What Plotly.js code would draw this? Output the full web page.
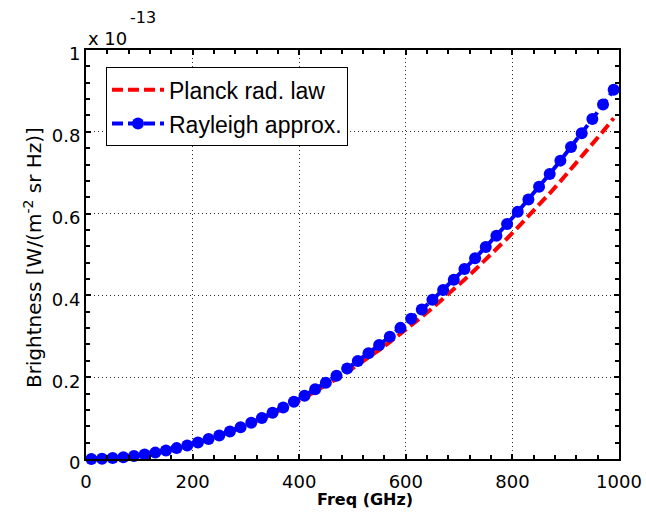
<!DOCTYPE html>
<html>
<head>
<meta charset="utf-8">
<script src="https://cdn.plot.ly/plotly-3.0.1.min.js"></script>
<style>html,body{margin:0;padding:0;background:#fff;}#chart{width:646px;height:513px;}</style>
</head>
<body>
<div id="chart"></div>
<script>
const freqGHz = [10,30,50,70,90,110,130,150,170,190,210,230,250,270,290,310,330,350,370,390,
  410,430,450,470,490,510,530,550,570,590,610,630,650,670,690,710,730,750,770,790,
  810,830,850,870,890,910,930,950,970,990];
const planck = [0.0001,0.0008,0.0023,0.0045,0.0074,0.0110,0.0154,0.0205,0.0263,0.0327,
  0.0399,0.0478,0.0564,0.0657,0.0757,0.0863,0.0977,0.1097,0.1224,0.1358,
  0.1498,0.1645,0.1799,0.1959,0.2126,0.2299,0.2479,0.2665,0.2858,0.3057,
  0.3263,0.3474,0.3692,0.3917,0.4147,0.4384,0.4627,0.4876,0.5131,0.5392,
  0.5660,0.5933,0.6212,0.6497,0.6788,0.7085,0.7388,0.7696,0.8011,0.8331];
const rayleigh = [0.0001,0.0008,0.0023,0.0045,0.0075,0.0111,0.0156,0.0207,0.0266,0.0332,
  0.0406,0.0487,0.0576,0.0671,0.0775,0.0885,0.1003,0.1128,0.1261,0.1401,
  0.1548,0.1703,0.1865,0.2034,0.2211,0.2396,0.2587,0.2786,0.2992,0.3206,
  0.3427,0.3655,0.3891,0.4134,0.4385,0.4643,0.4908,0.5181,0.5461,0.5748,
  0.6043,0.6345,0.6654,0.6971,0.7295,0.7627,0.7966,0.8312,0.8666,0.9027];
const seriesNames = ['Planck rad. law', 'Rayleigh approx.'];
const xTicks = [0,200,400,600,800,1000];
const yTicks = [0,0.2,0.4,0.6,0.8,1];
const yTickText = ['0','0.2','0.4','0.6','0.8','1'];
const xTitle = 'Freq (GHz)';
const yTitle = 'Brightness [W/(m<sup>-2</sup> sr Hz)]';
const exponentBase = 'x 10';
const exponentPow = '-13';

const tickFont = {family: 'DejaVu Sans', size: 18, color: '#000'};

const traces = [
  {x: freqGHz, y: planck, name: seriesNames[0], type: 'scatter', mode: 'lines',
   line: {color: '#ff0000', width: 4, dash: '11px,5px'}, legendgroup: 'a'},
  {x: freqGHz, y: rayleigh, name: seriesNames[1], type: 'scatter', mode: 'lines+markers',
   line: {color: '#0000ff', width: 4, dash: '11px,5px'},
   marker: {color: '#0000ff', size: 12, symbol: 'circle'}, cliponaxis: false, legendgroup: 'b'}
];

const axisCommon = {
  showline: true, linecolor: '#000', linewidth: 2, mirror: 'allticks',
  ticks: 'inside', ticklen: 5, tickwidth: 2, tickcolor: '#000',
  showgrid: true, gridcolor: '#333', gridwidth: 1, griddash: '1px,3px',
  zeroline: false, tickfont: tickFont, fixedrange: true
};

const layout = {
  width: 646, height: 513,
  margin: {l: 86, r: 27, t: 50, b: 54, pad: 0},
  paper_bgcolor: '#fff', plot_bgcolor: '#fff',
  showlegend: true,
  legend: {x: 0.0375, y: 0.958, xanchor: 'left', yanchor: 'top',
    bgcolor: '#fff', bordercolor: '#000', borderwidth: 1,
    font: {family: 'Liberation Sans', size: 23, color: '#000'},
    traceorder: 'grouped', tracegroupgap: 1, itemwidth: 52},
  xaxis: Object.assign({}, axisCommon, {
    range: [0, 1000], tickvals: xTicks, ticktext: xTicks.map(String),
    minor: {dtick: 40, tick0: 0, ticks: 'inside', ticklen: 4, tickwidth: 2, tickcolor: '#000', showgrid: false},
    ticklabelstandoff: 5
  }),
  yaxis: Object.assign({}, axisCommon, {
    range: [0, 1], tickvals: yTicks, ticktext: yTickText,
    minor: {dtick: 0.04, tick0: 0, ticks: 'inside', ticklen: 4, tickwidth: 2, tickcolor: '#000', showgrid: false},
    ticklabelstandoff: 0, ticklabelshift: 4
  }),
  annotations: [
    {xref: 'paper', yref: 'paper', x: 0, y: 1.028, xanchor: 'left', yanchor: 'middle',
     text: exponentBase, showarrow: false, font: {family: 'DejaVu Sans', size: 18, color: '#000'}},
    {xref: 'paper', yref: 'paper', x: 0.0787, y: 1.0795, xanchor: 'left', yanchor: 'middle',
     text: exponentPow, showarrow: false, font: {family: 'DejaVu Sans', size: 16, color: '#000'}},
    {xref: 'paper', yref: 'paper', x: 0.524, y: -0.1002, xanchor: 'center', yanchor: 'middle',
     text: '<b>' + xTitle + '</b>', showarrow: false, font: {family: 'DejaVu Sans', size: 16, color: '#000'}},
    {xref: 'paper', yref: 'paper', x: -0.0993, y: 0.4914, xanchor: 'center', yanchor: 'middle',
     text: yTitle, textangle: -90, showarrow: false, font: {family: 'DejaVu Sans', size: 20, color: '#000'}}
  ]
};

Plotly.newPlot('chart', traces, layout, {displayModeBar: false, staticPlot: true});
</script>
</body>
</html>
